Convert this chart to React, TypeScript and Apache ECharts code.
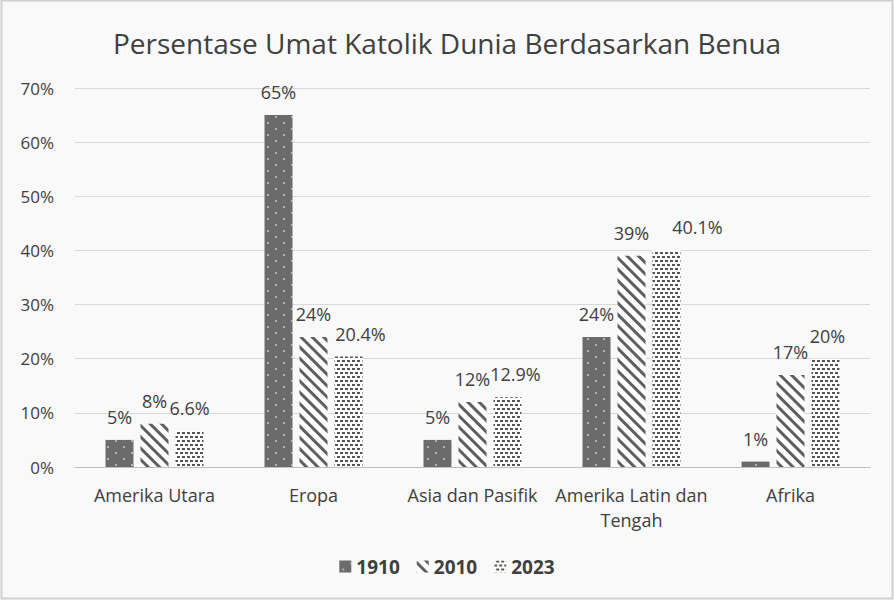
import React, { useEffect, useRef } from "react";
import * as echarts from "echarts";

const categories = ["Amerika Utara", "Eropa", "Asia dan Pasifik", "Amerika Latin dan\nTengah", "Afrika"];
const seriesNames = ["1910", "2010", "2023"];
const values1910 = [5, 65, 5, 24, 1];
const values2010 = [8, 24, 12, 39, 17];
const values2023 = [6.6, 20.4, 12.9, 40.1, 20];
const yTicks = [0, 10, 20, 30, 40, 50, 60, 70];
// horizontal shift of the 2023 labels, as placed in the reference
const labelShift2023 = [0, 12, 8, 31, 2];

const FONT = "'Open Sans', 'Noto Sans', sans-serif";

export default function App() {
  const ref = useRef<HTMLDivElement>(null);
  useEffect(() => {
    if (!ref.current) return;
    const chart = echarts.init(ref.current, null, { renderer: "svg" });
    const label = {
      show: true,
      position: "top" as const,
      distance: 14,
      color: "#404040",
      fontSize: 18,
      fontFamily: FONT,
      formatter: (p: any) => `${p.value}%`,
    };
    const decals = [
      { symbol: "circle", symbolSize: 0.25, dashArrayX: [[8, 8], [0, 8, 8, 0]], dashArrayY: [6, 0], color: "#ffffff" },
      { symbol: "rect", symbolSize: 1, dashArrayX: [1, 0], dashArrayY: [3, 5], rotation: Math.PI / 4, color: "#5f5f5f" },
      { symbol: "rect", symbolSize: 1, dashArrayX: [[3, 2], [0, 2, 3, 0]], dashArrayY: [2, 2], color: "#555555" },
    ];
    const baseColors = ["#6b6b6b", "#ffffff", "#ffffff"];
    const data = [values1910, values2010, values2023];
    chart.setOption({
      animation: false,
      backgroundColor: "#f9f9f9",
      title: {
        text: "Persentase Umat Katolik Dunia Berdasarkan Benua",
        left: "center",
        top: 24,
        textStyle: { fontSize: 28, fontWeight: "normal", color: "#404040", fontFamily: FONT },
      },
      legend: {
        bottom: 19,
        left: "center",
        itemWidth: 12,
        itemHeight: 12,
        itemGap: 17,
        icon: "rect",
        textStyle: { fontSize: 19, fontWeight: "bold", color: "#404040", fontFamily: FONT },
        data: seriesNames,
      },
      grid: { left: 75, right: 24, top: 88, bottom: 133 },
      xAxis: {
        type: "category",
        data: categories,
        axisLine: { lineStyle: { color: "#bfbfbf", width: 1 } },
        axisTick: { show: false },
        axisLabel: { color: "#404040", fontSize: 18, fontFamily: FONT, margin: 15, lineHeight: 25, interval: 0 },
      },
      yAxis: {
        type: "value",
        min: 0,
        max: 70,
        interval: 10,
        axisLine: { show: false },
        axisTick: { show: false },
        splitLine: { lineStyle: { color: "#d9d9d9", width: 1 } },
        axisLabel: {
          color: "#404040",
          fontSize: 17,
          fontFamily: FONT,
          margin: 21,
          formatter: (v: number) => (yTicks.includes(v) ? `${v}%` : ""),
        },
      },
      graphic: [
        {
          type: "rect",
          shape: { x: 1.5, y: 0.5, width: 891, height: 598 },
          style: { fill: "none", stroke: "#d0d0d0", lineWidth: 2 },
          silent: true,
        },
      ],
      series: seriesNames.map((name, i) => ({
        name,
        type: "bar",
        data:
          i === 2
            ? data[i].map((v, j) => ({ value: v, label: { offset: [labelShift2023[j], 0] } }))
            : data[i],
        barWidth: 28,
        barGap: "25%",
        itemStyle: { color: baseColors[i], decal: decals[i] },
        label,
      })),
    });
    return () => chart.dispose();
  }, []);
  return <div ref={ref} style={{ position: "fixed", left: 0, top: 0, width: 894, height: 600 }} />;
}
